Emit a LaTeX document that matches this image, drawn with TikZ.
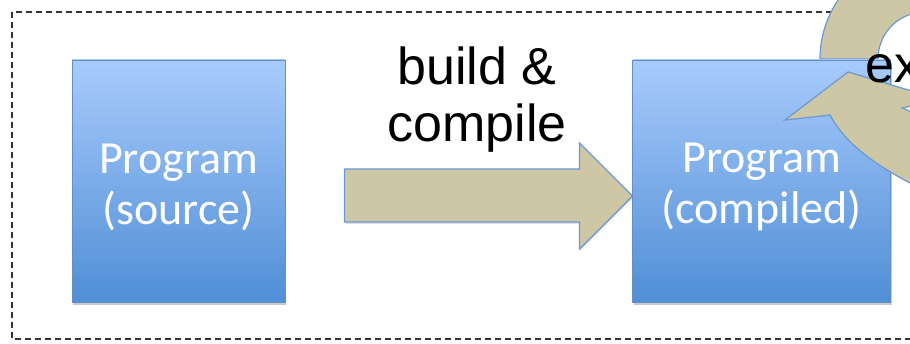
\documentclass[tikz,border=0pt]{standalone}
\usepackage{fontspec}
\setmainfont{Liberation Sans}
\newfontfamily\boxfont{Carlito}
\usetikzlibrary{positioning, shadows, calc}

\definecolor{progtop}{RGB}{168,203,252}
\definecolor{progbot}{RGB}{80,142,214}
\definecolor{progedge}{RGB}{98,142,202}
\definecolor{tan}{RGB}{205,199,166}
\definecolor{bandedge}{RGB}{108,152,210}

% pushes a box text a little lower
\newcommand{\toprule}{\rule{0pt}{42pt}}

\begin{document}
\begin{tikzpicture}[x=1pt, y=-1pt,
  prog/.style={draw=progedge, line width=0.8pt, top color=progtop, bottom color=progbot,
    minimum height=242pt, inner sep=0pt, text=white, align=center,
    font=\boxfont\fontsize{46}{51}\selectfont,
    drop shadow={shadow xshift=1pt, shadow yshift=-3pt, opacity=.3, fill=black!70}},
  band/.style={fill=tan, draw=bandedge, line width=1.2pt, line join=miter},
  big/.style={font=\fontsize{52}{57}\selectfont, inner sep=0pt}]

\useasboundingbox (0,0) rectangle (910,344);
\clip (0,0) rectangle (910,344);

% dashed frame, it runs on past the right edge
\draw[black!80, line width=1.9pt, dash pattern=on 6pt off 4pt] (12,12) rectangle (960,339);

% tail of the run loop
\coordinate (loop) at (925,59);
\draw[band] ($(loop)+(180:105)$) arc[start angle=180, end angle=300, radius=105]
  -- ($(loop)+(300:47)$) arc[start angle=300, end angle=180, radius=47] -- cycle;

% the two program boxes
\node[prog, minimum width=213pt] (src) at (178.5,181) {\toprule Program\\(source)};
\node[prog, minimum width=258pt, right=347pt of src] (bin) {\toprule Program\\(compiled)};

% build step
\coordinate (tip) at ([yshift=-15pt]bin.west);
\draw[band, drop shadow={shadow xshift=1pt, shadow yshift=-2pt, opacity=.2, fill=black!60}]
  (tip) -- ++(-53,-53) -- ++(0,26) -- ++(-235,0) -- ++(0,53) -- ++(235,0) -- ++(0,27) -- cycle;
\node[big, align=center, anchor=north] (build) at (477,47) {build \&\\compile};

% head of the run loop, back into the compiled box
\draw[band] (785,120) -- (848,72) -- (935,98) -- (935,101) -- (902,108) -- (935,122)
  -- (960,122) -- (960,205) -- (940,198) -- (910,183)
  .. controls (870,162) and (843,140) .. (830,115) -- cycle;
\node[big, anchor=base west] (run) at (865,83) {ex};

\end{tikzpicture}
\end{document}
